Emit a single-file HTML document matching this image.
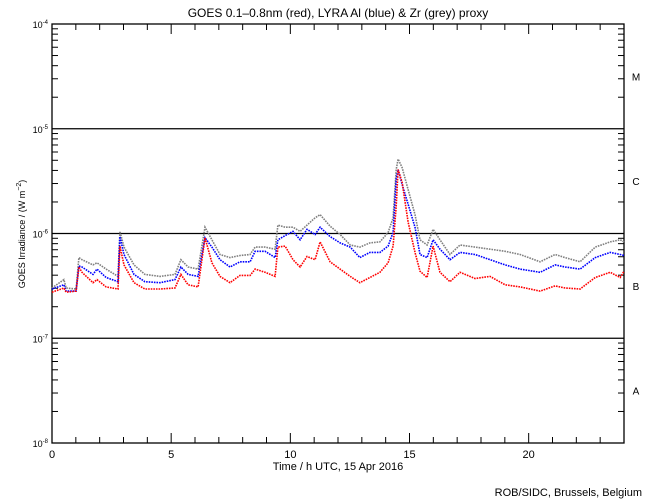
<!DOCTYPE html>
<html><head><meta charset="utf-8"><style>
body{margin:0;background:#fff;}
svg{display:block;font-family:"Liberation Sans","DejaVu Sans",sans-serif;}
</style></head><body>
<svg id="chart" width="650" height="500" viewBox="0 0 650 500" xmlns="http://www.w3.org/2000/svg">
<rect width="650" height="500" fill="#fff"/>
<text x="338" y="17" font-size="12" text-anchor="middle">GOES 0.1–0.8nm (red), LYRA Al (blue) &amp; Zr (grey) proxy</text>
<text x="338" y="470" font-size="11" text-anchor="middle">Time / h UTC, 15 Apr 2016</text>
<text transform="translate(25,234) rotate(-90)" font-size="9" text-anchor="middle">GOES Irradiance / (W m<tspan dy="-4" font-size="7">−2</tspan><tspan dy="4">)</tspan></text>
<text x="642" y="496" font-size="11" text-anchor="end">ROB/SIDC, Brussels, Belgium</text>
<g id="axes"></g>
<g id="series"></g>
</svg>
<script>
const hours=[0,0.50,0.59,1.01,1.13,1.26,1.72,1.89,2.27,2.77,2.85,3.02,3.44,3.90,4.53,5.16,5.41,5.71,6.13,6.42,6.71,7.05,7.47,7.89,8.31,8.52,8.94,9.36,9.48,9.78,10.11,10.41,10.70,11.04,11.25,11.67,12.09,12.51,12.92,13.34,13.76,14.10,14.31,14.44,14.52,14.69,14.94,15.23,15.44,15.74,15.99,16.28,16.70,17.12,17.75,18.38,19.01,19.64,20.48,21.11,21.53,22.16,22.79,23.42,23.84,24];
const goesLog=[-6.56,-6.52,-6.56,-6.55,-6.32,-6.37,-6.47,-6.44,-6.51,-6.53,-6.12,-6.30,-6.47,-6.53,-6.53,-6.52,-6.39,-6.49,-6.51,-6.04,-6.28,-6.41,-6.47,-6.40,-6.40,-6.34,-6.37,-6.41,-6.13,-6.12,-6.25,-6.32,-6.22,-6.25,-6.08,-6.27,-6.34,-6.41,-6.47,-6.42,-6.37,-6.28,-6.12,-5.74,-5.39,-5.51,-5.89,-6.18,-6.36,-6.42,-6.12,-6.37,-6.46,-6.37,-6.43,-6.41,-6.49,-6.51,-6.55,-6.50,-6.52,-6.53,-6.42,-6.37,-6.42,-6.36];
const alLog=[-6.53,-6.49,-6.55,-6.55,-6.31,-6.32,-6.39,-6.34,-6.42,-6.46,-6.03,-6.20,-6.39,-6.46,-6.47,-6.44,-6.32,-6.39,-6.41,-6.04,-6.13,-6.25,-6.32,-6.27,-6.27,-6.17,-6.17,-6.23,-6.06,-6.02,-5.98,-6.06,-5.96,-6.01,-5.94,-6.03,-6.09,-6.13,-6.23,-6.18,-6.18,-6.12,-5.99,-5.48,-5.39,-5.53,-5.72,-5.94,-6.20,-6.23,-6.06,-6.15,-6.25,-6.18,-6.20,-6.25,-6.30,-6.34,-6.37,-6.30,-6.32,-6.34,-6.23,-6.18,-6.20,-6.21];
const zrLog=[-6.52,-6.44,-6.52,-6.53,-6.23,-6.25,-6.30,-6.28,-6.34,-6.41,-5.98,-6.13,-6.30,-6.39,-6.41,-6.39,-6.25,-6.32,-6.34,-5.94,-6.06,-6.20,-6.23,-6.21,-6.20,-6.13,-6.13,-6.15,-5.92,-5.94,-5.94,-5.98,-5.92,-5.85,-5.82,-5.93,-6.01,-6.11,-6.13,-6.09,-6.08,-5.99,-5.85,-5.39,-5.29,-5.37,-5.58,-5.82,-6.06,-6.11,-5.96,-6.06,-6.20,-6.11,-6.13,-6.15,-6.17,-6.20,-6.27,-6.20,-6.23,-6.27,-6.13,-6.08,-6.06,-6.08];
const xTickLabels=[0,5,10,15,20];
const yDecades=[-4,-5,-6,-7,-8];
const classLabels=["M","C","B","A"];

const X0=52,X1=624,Y0=24,Y1=443;
const xs=h=>X0+(h/24)*(X1-X0);
const ys=l=>Y0+(-4-l)/4*(Y1-Y0);
const NS="http://www.w3.org/2000/svg";
function mk(tag,attrs,parent){const e=document.createElementNS(NS,tag);for(const k in attrs)e.setAttribute(k,attrs[k]);parent.appendChild(e);return e;}
const ax=document.getElementById('axes');
const frame=mk('rect',{x:X0,y:Y0,width:X1-X0,height:Y1-Y0,fill:'none',stroke:'#000','stroke-width':1.3},ax);


// horizontal class lines
[-5,-6,-7].forEach(d=>{const l=mk('line',{x1:X0,x2:X1,y1:ys(d),y2:ys(d),stroke:'#000','stroke-width':1.3},ax);

});
// y ticks
yDecades.forEach(d=>{
 const t=mk('text',{x:X0-4,y:ys(d)+4,'font-size':9,'text-anchor':'end'},ax);
 
 
 t.innerHTML='10<tspan dy="-4" font-size="6">'+d+'</tspan>';
 if(d>-8){for(let m=2;m<=9;m++){const yy=ys(d-1+Math.log10(m));
  const a=mk('line',{x1:X0,x2:X0+6,y1:yy,y2:yy,stroke:'#000'},ax);
  
  
  const b=mk('line',{x1:X1-6,x2:X1,y1:yy,y2:yy,stroke:'#000'},ax);
  
  }}
});
classLabels.forEach((c,i)=>{const t=mk('text',{x:636,y:ys(-4.5-i)+4,'font-size':10,'text-anchor':'middle'},ax);
 
 
 t.textContent=c;});
for(let h=1;h<24;h++){const len=(h%5===0)?10:6;
 const a=mk('line',{x1:xs(h),x2:xs(h),y1:Y1,y2:Y1-len,stroke:'#000'},ax);
 
 
 const b=mk('line',{x1:xs(h),x2:xs(h),y1:Y0,y2:Y0+len,stroke:'#000'},ax);
 
 }
xTickLabels.forEach(h=>{const t=mk('text',{x:xs(h),y:Y1+15,'font-size':11,'text-anchor':'middle'},ax);
 
 
 t.textContent=h;});
const sg=document.getElementById('series');
[[zrLog,'#808080','zr-proxy-series'],[alLog,'#0000ff','al-proxy-series'],[goesLog,'#ff0000','goes-series']].forEach(([arr,col,name])=>{
 const pts=arr.map((v,i)=>xs(hours[i]).toFixed(1)+','+ys(v).toFixed(1)).join(' ');
 const p=mk('polyline',{points:pts,fill:'none',stroke:col,'stroke-width':1.6,'stroke-dasharray':'1.6 1'},sg);
 
 
});
</script>
</body></html>
